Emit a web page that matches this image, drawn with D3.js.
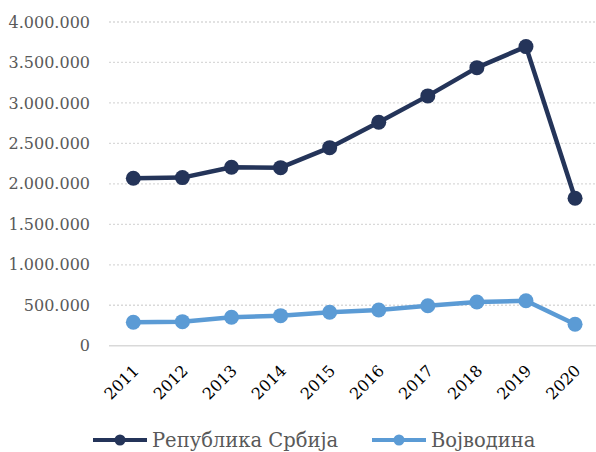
<!DOCTYPE html>
<html>
<head>
<meta charset="utf-8">
<script src="https://cdn.jsdelivr.net/npm/d3@7"></script>
<style>
  body { margin: 0; background: #fff; }
  svg { display: block; font-family: "DejaVu Serif", serif; }
</style>
</head>
<body>
<script>
var years = ["2011","2012","2013","2014","2015","2016","2017","2018","2019","2020"]
var srbija = [2069000, 2077000, 2205000, 2200000, 2447000, 2761000, 3087000, 3436000, 3696000, 1822000]
var vojvodina = [289000, 297000, 351000, 371000, 413000, 441000, 494000, 540000, 556000, 265000]
var yTicks = [0, 500000, 1000000, 1500000, 2000000, 2500000, 3000000, 3500000, 4000000]

var series = [
  {name: "Република Србија", values: srbija, color: "#243459"},
  {name: "Војводина", values: vojvodina, color: "#5B9BD5"}
]

var screen = {width: 596, height: 452}

var svg = d3.select("body")
  .append("svg")
  .attr("width", screen.width)
  .attr("height", screen.height)

var xScale = d3.scalePoint()
  .domain(years)
  .range([108.8, 599.6])
  .padding(0.5)

var yScale = d3.scaleLinear()
  .domain([0, 4000000])
  .range([345.7, 22])

var fmt = d3.formatLocale({decimal: ",", thousands: ".", grouping: [3], currency: ["", ""]}).format(",")

// gridlines
svg.append("g")
  .selectAll("line")
  .data(yTicks.filter(function(d) { return d > 0 }))
  .enter()
  .append("line")
  .attr("x1", 109)
  .attr("x2", 600)
  .attr("y1", function(d) { return yScale(d) })
  .attr("y2", function(d) { return yScale(d) })
  .attr("stroke", "#d9d9d9")
  .attr("stroke-width", 1.3)
  .attr("stroke-dasharray", "2,2")

// zero line
svg.append("line")
  .attr("x1", 109)
  .attr("x2", 600)
  .attr("y1", yScale(0))
  .attr("y2", yScale(0))
  .attr("stroke", "#d9d9d9")
  .attr("stroke-width", 1.5)

// y axis labels
var yAxis = d3.axisLeft(yScale)
  .tickValues(yTicks)
  .tickFormat(fmt)
  .tickSize(0)
  .tickPadding(0)

svg.append("g")
  .attr("id", "yAxis")
  .attr("transform", "translate(90,0)")
  .call(yAxis)
  .call(function(g) { g.select(".domain").remove() })
  .selectAll("text")
  .attr("fill", "#595959")
  .style("font-size", "16px")
  .style("font-family", "DejaVu Serif, serif")

// x axis labels
var xAxis = d3.axisBottom(xScale).tickSize(0).tickPadding(0)

svg.append("g")
  .attr("id", "xAxis")
  .attr("transform", "translate(0," + yScale(0) + ")")
  .call(xAxis)
  .call(function(g) { g.select(".domain").remove() })
  .selectAll("text")
  .attr("fill", "#000")
  .style("font-size", "16px")
  .style("font-family", "DejaVu Serif, serif")
  .attr("text-anchor", "end")
  .attr("dy", null)
  .attr("y", 0)
  .attr("transform", "translate(6,26) rotate(-45)")

// lines + markers
var line = d3.line()
  .x(function(d, i) { return xScale(years[i]) })
  .y(function(d) { return yScale(d) })

series.forEach(function(s) {
  var g = svg.append("g")
  g.append("path")
    .datum(s.values)
    .attr("d", line)
    .attr("fill", "none")
    .attr("stroke", s.color)
    .attr("stroke-width", 4.5)
    .attr("stroke-linejoin", "round")
  g.selectAll("circle")
    .data(s.values)
    .enter()
    .append("circle")
    .attr("cx", function(d, i) { return xScale(years[i]) })
    .attr("cy", function(d) { return yScale(d) })
    .attr("r", 7.5)
    .attr("fill", s.color)
})

// legend
var legendX = [93, 372]
var lg = svg.append("g").attr("id", "legend")
series.forEach(function(s, i) {
  var g = lg.append("g").attr("transform", "translate(" + legendX[i] + ",440)")
  g.append("line")
    .attr("x1", 0).attr("x2", 54)
    .attr("y1", 0).attr("y2", 0)
    .attr("stroke", s.color)
    .attr("stroke-width", 4)
  g.append("circle")
    .attr("cx", 27).attr("cy", 0).attr("r", 5.5)
    .attr("fill", s.color)
  g.append("text")
    .attr("x", 59)
    .attr("y", 7)
    .attr("fill", "#595959")
    .style("font-size", "19.5px")
    .text(s.name)
})
</script>
</body>
</html>
